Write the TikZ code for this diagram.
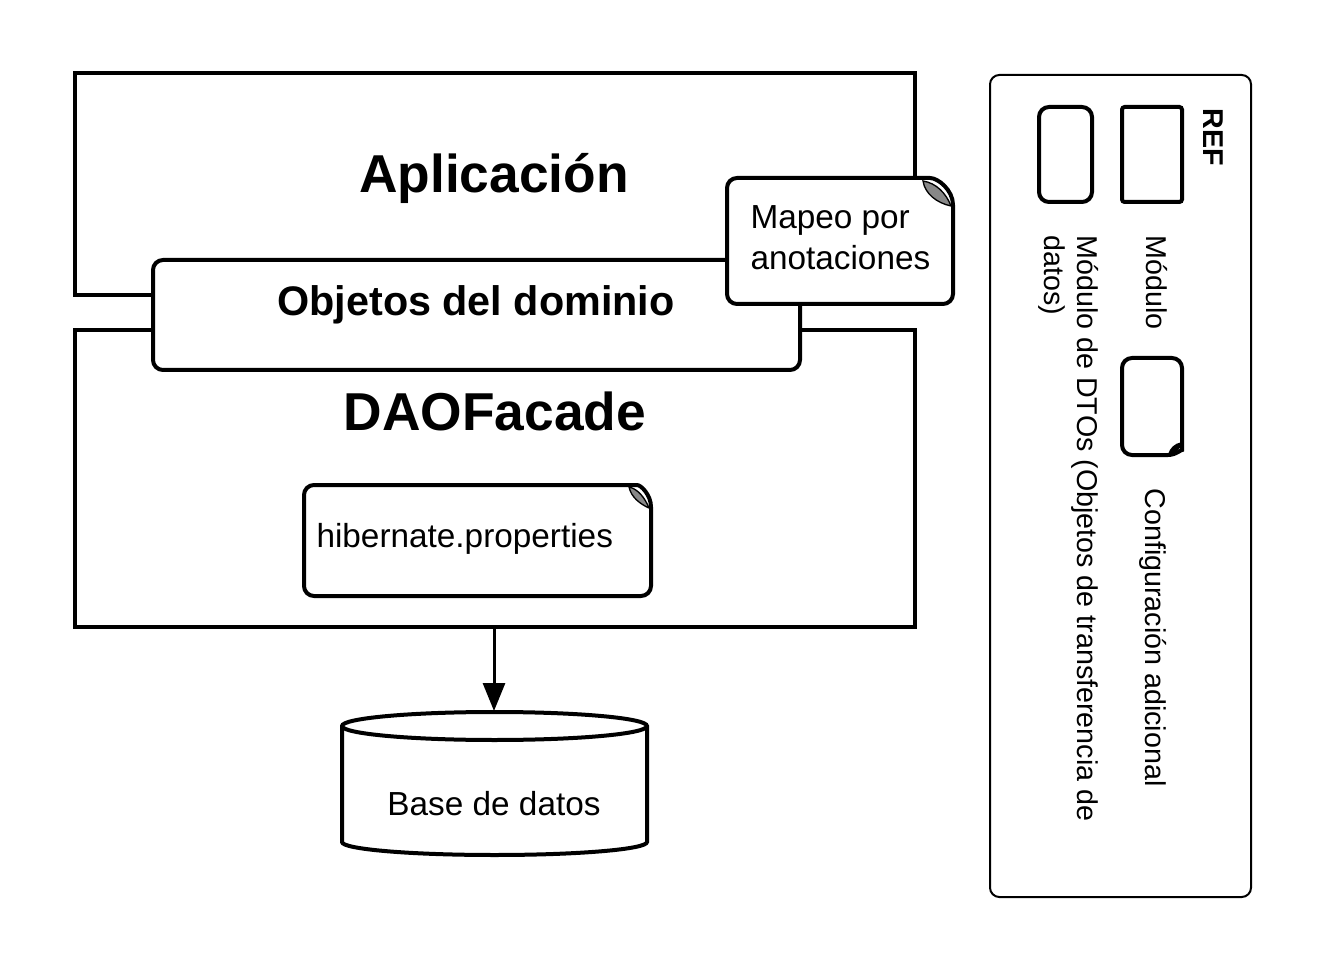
\documentclass[tikz,border=0pt]{standalone}
\usepackage{fontspec}
\setmainfont{Liberation Sans}
\usetikzlibrary{fit,arrows.meta}

\definecolor{grispliegue}{RGB}{136,136,136}
\tikzset{every picture/.style={line width=0.75pt}}
\tikzset{
  modulo/.style={draw, line width=3pt, inner sep=0pt},
  dominio/.style={draw, fill=white, line width=3pt, rounded corners=7.5pt, inner sep=0pt},
  titulo/.style={font=\fontsize{40}{48}\selectfont\bfseries, inner sep=0pt, anchor=base},
  subtitulo/.style={font=\fontsize{31}{37}\selectfont\bfseries, inner sep=0pt, anchor=base},
  texto/.style={font=\fontsize{25}{31}\selectfont, inner sep=0pt},
  leyenda/.style={font=\fontsize{21.5}{25}\selectfont, inner sep=0pt, rotate=-90, anchor=base west},
  leyendatit/.style={leyenda, font=\fontsize{21.5}{25}\selectfont\bfseries},
  nota/.style={line width=3pt, fill=white, rounded corners=7.5pt},
  pliegue/.style={fill=grispliegue, line width=1pt},
  flecha/.style={line width=2.25pt, -{Triangle[length=21pt,width=16.5pt]}},
}

\begin{document}
\begin{tikzpicture}[x=0.75pt,y=0.75pt,yscale=-1]
        \useasboundingbox (0,0) rectangle (1328,973);

        %Shape: Rectangle [id:app]
        \node[modulo, fit={(75,73) (915,295)}] (app) {};
        %Shape: Rectangle [id:dao]
        \node[modulo, fit={(75,330) (915,627)}] (dao) {};
        %Shape: Rounded Rect [id:dom]
        \node[dominio, fit={(153,260) (800,370)}] (dom) {};

        %Shape: Note [id:mapeo]
        \draw[nota] (953,205) -- (953,304) -- (727,304) -- (727,178) -- (920,178) [sharp corners] .. controls (938,178) and (953,190) .. (953,205) -- cycle ;
        \draw[pliegue] (923,181) .. controls (925,194) and (937,203) .. (951,206) .. controls (946,193) and (936,183) .. (923,181) -- cycle ;
        %Shape: Note [id:hiber]
        \draw[nota] (651,507) -- (651,596) -- (304,596) -- (304,485) -- (627,485) [sharp corners] .. controls (641,485) and (651,495) .. (651,507) -- cycle ;
        \draw[pliegue] (629,487) .. controls (631,497) and (640,504) .. (649,508) .. controls (645,498) and (638,489) .. (629,487) -- cycle ;

        %Shape: Can [id:bd]
        \draw[line width=3pt, fill=white] (342,726) -- (342,842) arc[start angle=180, end angle=0, x radius=152.5, y radius=13] -- (647,726) arc[start angle=0, end angle=-180, x radius=152.5, y radius=14] -- cycle ;
        \draw[line width=3pt] (342,726) arc[start angle=180, end angle=0, x radius=152.5, y radius=14] ;
        \coordinate (bdtop) at (494,711);

        %Straight Lines [id:dao-bd]
        \draw[flecha] (dao.south -| bdtop) -- (bdtop) ;

        % Text Node
        \node[titulo] (apptxt) at (494,193) {Aplicación};
        % Text Node
        \node[subtitulo] (domtxt) at (476,316) {Objetos del dominio};
        % Text Node
        \node[titulo] (daotxt) at (495,431) {DAOFacade};
        % Text Node
        \node[texto, anchor=base west, align=left] (mapeotxt) at (750,270) {Mapeo por\\anotaciones};
        % Text Node
        \node[texto, anchor=base west] (hibertxt) at (316,547) {hibernate.properties};
        % Text Node
        \node[texto, anchor=base] (bdtxt) at (494,815) {Base de datos};

        %Shape: Rounded Rect [id:ref]
        \draw[line width=1.5pt, rounded corners=7pt] (990,75) rectangle (1251,897) ;
        %Shape: Rectangle [id:ref-mod]
        \draw[line width=3pt, rounded corners=2pt] (1122,107) rectangle (1182,202) ;
        %Shape: Rounded Rect [id:ref-dto]
        \draw[line width=3pt, rounded corners=7.5pt] (1039,107) rectangle (1092,202) ;
        %Shape: Note [id:ref-conf]
        \draw[nota] (1168,455) -- (1122,455) -- (1122,358) -- (1182,358) -- (1182,440) [sharp corners] .. controls (1182,449) and (1176,455) .. (1168,455) -- cycle ;
        \draw[fill=black, line width=1pt] (1181,443) .. controls (1175,444) and (1170,449) .. (1169,454) .. controls (1175,453) and (1180,449) .. (1181,443) -- cycle ;

        % Text Node
        \node[leyendatit] (reftxt) at (1203,108) {REF};
        % Text Node
        \node[leyenda] (modtxt) at (1146,235) {Módulo};
        % Text Node
        \node[leyenda, align=left] (dtotxt) at (1044,235) {Módulo de DTOs (Objetos de transferencia de\\datos)};
        % Text Node
        \node[leyenda] (conftxt) at (1145,488) {Configuración adicional};

\end{tikzpicture}
\end{document}
